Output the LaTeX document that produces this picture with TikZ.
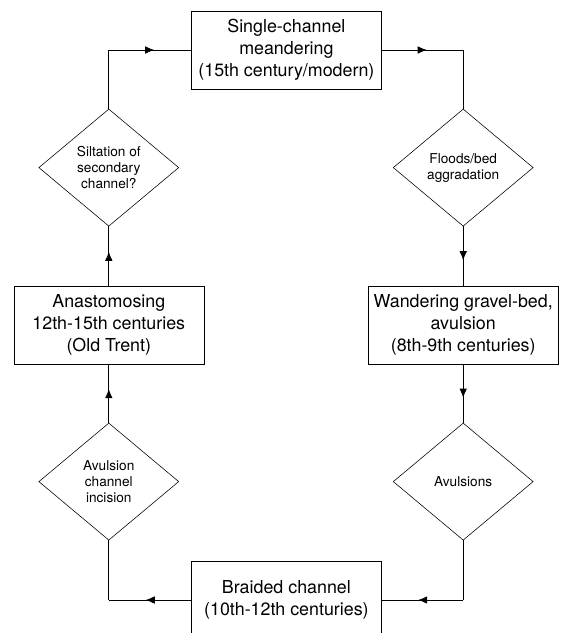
\documentclass[tikz,border=0pt]{standalone}
\usepackage{fontspec}
\setmainfont{TeX Gyre Heros}
\usetikzlibrary{arrows.meta}
\usetikzlibrary{shapes.geometric}
\usetikzlibrary{decorations.markings}

\begin{document}
\begin{tikzpicture}
    \tikzset{stage/.style = {shape=rectangle,draw,align=center,minimum width=4.75cm,minimum height=1.95cm,inner sep=0pt,font=\fontsize{12.7}{15.6}\selectfont}}
    \tikzset{decision/.style = {shape=diamond,draw,align=center,aspect=1.2,minimum width=3.5cm,minimum height=2.93cm,inner sep=0pt,font=\fontsize{9.7}{11.4}\selectfont}}
    \tikzset{edge/.style = {-,line width=0.6pt}}
    \tikzset{midarrow/.style = {postaction={decorate},decoration={markings,mark=at position 0.5 with {\arrow[xshift=1.1mm]{Latex[length=2.3mm,width=1.9mm]}}}}}

    \useasboundingbox (0,0) rectangle (14,-15.825);

    % stages
    \node[stage] (meander) at (7.16,-1.25) {Single-channel\\meandering\\(15th century/modern)};
    \node[stage] (wander) at (11.58,-8.12) {Wandering gravel-bed,\\avulsion\\(8th-9th centuries)};
    \node[stage] (braid) at (7.16,-15.0) {Braided channel\\(10th-12th centuries)};
    \node[stage] (anast) at (2.72,-8.12) {Anastomosing\\12th-15th centuries\\(Old Trent)};

    % decisions
    \node[decision] (silt) at (2.72,-4.19) {Siltation of\\secondary\\channel?};
    \node[decision] (flood) at (11.58,-4.19) {Floods/bed\\aggradation};
    \node[decision] (avuls) at (11.58,-12.04) {Avulsions};
    \node[decision] (incis) at (2.72,-12.04) {Avulsion\\channel\\incision};

    % corners
    \coordinate (c1) at (silt.north |- meander.west);
    \coordinate (c2) at (flood.north |- meander.east);
    \coordinate (c3) at (avuls.south |- braid.east);
    \coordinate (c4) at (incis.south |- braid.west);

    %edges
    \draw[edge] (silt.north) to (c1);
    \draw[edge,midarrow] (c1) to (meander.west);
    \draw[edge,midarrow] (meander.east) to (c2);
    \draw[edge] (c2) to (flood.north);
    \draw[edge,midarrow] (flood.south) to (wander.north);
    \draw[edge,midarrow] (wander.south) to (avuls.north);
    \draw[edge] (avuls.south) to (c3);
    \draw[edge,midarrow] (c3) to (braid.east);
    \draw[edge,midarrow] (braid.west) to (c4);
    \draw[edge] (c4) to (incis.south);
    \draw[edge,midarrow] (incis.north) to (anast.south);
    \draw[edge,midarrow] (anast.north) to (silt.south);
\end{tikzpicture}
\end{document}
